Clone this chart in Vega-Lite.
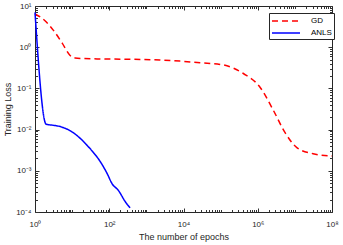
{
  "$schema": "https://vega.github.io/schema/vega-lite/v6.json",
  "autosize": {"type": "none"},
  "padding": {"left": 35, "top": 6, "right": 11, "bottom": 33},
  "width": 297,
  "height": 206,
  "background": "white",
  "config": {
    "view": {"stroke": null},
    "font": "Liberation Sans",
    "axis": {
      "labelFont": "Liberation Sans",
      "titleFont": "Liberation Sans",
      "labelFontSize": 8,
      "titleFontSize": 9,
      "titleFontWeight": "normal",
      "labelColor": "#262626",
      "titleColor": "#262626",
      "domainColor": "#262626",
      "grid": false,
      "labelOverlap": false,
      "labelFlush": false
    }
  },
  "datasets": {
    "gd": [
      {"epoch": 1, "loss": 6.4, "series": "GD"},
      {"epoch": 1.86, "loss": 4.4, "series": "GD"},
      {"epoch": 3.1, "loss": 2.6, "series": "GD"},
      {"epoch": 5.4, "loss": 1.26, "series": "GD"},
      {"epoch": 8.7, "loss": 0.64, "series": "GD"},
      {"epoch": 12, "loss": 0.55, "series": "GD"},
      {"epoch": 20, "loss": 0.53, "series": "GD"},
      {"epoch": 47, "loss": 0.52, "series": "GD"},
      {"epoch": 363, "loss": 0.51, "series": "GD"},
      {"epoch": 2300, "loss": 0.49, "series": "GD"},
      {"epoch": 8000, "loss": 0.46, "series": "GD"},
      {"epoch": 28000, "loss": 0.42, "series": "GD"},
      {"epoch": 120000, "loss": 0.37, "series": "GD"},
      {"epoch": 410000, "loss": 0.23, "series": "GD"},
      {"epoch": 1150000, "loss": 0.107, "series": "GD"},
      {"epoch": 2600000, "loss": 0.03, "series": "GD"},
      {"epoch": 5500000, "loss": 0.0083, "series": "GD"},
      {"epoch": 11500000, "loss": 0.0036, "series": "GD"},
      {"epoch": 31000000, "loss": 0.0026, "series": "GD"},
      {"epoch": 89000000, "loss": 0.0023, "series": "GD"},
      {"epoch": 100000000, "loss": 0.0023, "series": "GD"}
    ],
    "anls": [
      {"epoch": 1, "loss": 7, "series": "ANLS"},
      {"epoch": 2, "loss": 0.0135, "series": "ANLS"},
      {"epoch": 3, "loss": 0.0128, "series": "ANLS"},
      {"epoch": 5, "loss": 0.0117, "series": "ANLS"},
      {"epoch": 9, "loss": 0.0093, "series": "ANLS"},
      {"epoch": 16, "loss": 0.0063, "series": "ANLS"},
      {"epoch": 25, "loss": 0.0042, "series": "ANLS"},
      {"epoch": 36, "loss": 0.0029, "series": "ANLS"},
      {"epoch": 50, "loss": 0.002, "series": "ANLS"},
      {"epoch": 68, "loss": 0.0013, "series": "ANLS"},
      {"epoch": 90, "loss": 0.00082, "series": "ANLS"},
      {"epoch": 117, "loss": 0.0005, "series": "ANLS"},
      {"epoch": 178, "loss": 0.00033, "series": "ANLS"},
      {"epoch": 270, "loss": 0.000178, "series": "ANLS"},
      {"epoch": 363, "loss": 0.000126, "series": "ANLS"}
    ]
  },
  "layer": [
    {
      "data": {"name": "gd"},
      "mark": {"type": "line", "interpolate": "monotone", "strokeWidth": 1.5},
      "encoding": {
        "x": {
          "field": "epoch", "type": "quantitative",
          "scale": {"type": "log", "domain": [1, 100000000], "nice": false},
          "axis": {
            "orient": "bottom",
            "title": "The number of epochs",
            "titlePadding": 4,
            "values": [1, 100, 10000, 1000000, 100000000],
            "ticks": false,
            "tickSize": 0,
            "labelPadding": 8,
            "labelExpr": "'10' + ['⁻⁴','⁻³','⁻²','⁻¹','⁰','¹','²','³','⁴','⁵','⁶','⁷','⁸'][round(log(datum.value)/LN10) + 4]"
          }
        },
        "y": {
          "field": "loss", "type": "quantitative",
          "scale": {"type": "log", "domain": [0.0001, 10], "nice": false},
          "axis": {
            "orient": "left",
            "title": "Training Loss",
            "titlePadding": 3,
            "values": [0.0001, 0.001, 0.01, 0.1, 1, 10],
            "ticks": false,
            "tickSize": 0,
            "labelPadding": 4,
            "labelExpr": "'10' + ['⁻⁴','⁻³','⁻²','⁻¹','⁰','¹','²','³','⁴','⁵','⁶','⁷','⁸'][round(log(datum.value)/LN10) + 4]"
          }
        },
        "color": {
          "field": "series", "type": "nominal",
          "scale": {"domain": ["GD", "ANLS"], "range": ["#ff0000", "#0000ff"]},
          "legend": {
            "title": null,
            "orient": "none",
            "legendX": 234,
            "legendY": 7,
            "strokeColor": "#262626",
            "fillColor": "white",
            "padding": 2,
            "symbolType": "M-2.8,0H2.8",
            "symbolSize": 100,
            "symbolOffset": 9,
            "symbolStrokeWidth": 1.5,
            "labelFontSize": 8,
            "labelFont": "Liberation Sans",
            "labelColor": "#000000",
            "labelOffset": 19,
            "rowPadding": 2
          }
        },
        "strokeDash": {
          "field": "series", "type": "nominal",
          "scale": {"domain": ["GD", "ANLS"], "range": [[6, 4], [1, 0]]}
        }
      }
    },
    {
      "data": {"name": "anls"},
      "mark": {"type": "line", "interpolate": "monotone", "strokeWidth": 1.5},
      "encoding": {
        "x": {
          "field": "epoch", "type": "quantitative",
          "axis": {
            "orient": "top", "offset": -206, "title": null, "labels": false, "domain": false,
            "ticks": true, "tickSize": 4, "tickWidth": 1, "tickColor": "#333333",
            "values": [1, 100, 10000, 1000000, 100000000]
          }
        },
        "y": {
          "field": "loss", "type": "quantitative",
          "axis": {
            "orient": "right", "offset": -297, "title": null, "labels": false, "domain": false,
            "ticks": true, "tickSize": 4, "tickWidth": 1, "tickColor": "#333333",
            "values": [0.0001, 0.001, 0.01, 0.1, 1, 10]
          }
        },
        "color": {"field": "series", "type": "nominal"},
        "strokeDash": {"field": "series", "type": "nominal"}
      }
    },
    {
      "data": {"name": "gd"},
      "mark": {"type": "line", "opacity": 0},
      "encoding": {
        "x": {
          "field": "epoch", "type": "quantitative",
          "axis": {
            "orient": "top", "offset": -206, "title": null, "labels": false, "domain": false,
            "ticks": true, "tickSize": 2.5, "tickWidth": 1, "tickColor": "#333333",
            "values": [2,3,4,5,6,7,8,9,10,20,30,40,50,60,70,80,90,200,300,400,500,600,700,800,900,1000,2000,3000,4000,5000,6000,7000,8000,9000,20000,30000,40000,50000,60000,70000,80000,90000,100000,200000,300000,400000,500000,600000,700000,800000,900000,2000000,3000000,4000000,5000000,6000000,7000000,8000000,9000000,10000000,20000000,30000000,40000000,50000000,60000000,70000000,80000000,90000000]
          }
        },
        "y": {
          "field": "loss", "type": "quantitative",
          "axis": {
            "orient": "right", "offset": -297, "title": null, "labels": false, "domain": false,
            "ticks": true, "tickSize": 2.5, "tickWidth": 1, "tickColor": "#333333",
            "values": [0.0002,0.0003,0.0004,0.0005,0.0006,0.0007,0.0008,0.0009,0.002,0.003,0.004,0.005,0.006,0.007,0.008,0.009,0.02,0.03,0.04,0.05,0.06,0.07,0.08,0.09,0.2,0.3,0.4,0.5,0.6,0.7,0.8,0.9,2,3,4,5,6,7,8,9]
          }
        }
      }
    },
    {
      "data": {"name": "gd"},
      "mark": {"type": "line", "opacity": 0},
      "encoding": {
        "x": {
          "field": "epoch", "type": "quantitative",
          "axis": {
            "orient": "bottom", "offset": -206, "title": null, "labels": false, "domain": true,
            "ticks": true, "tickSize": 4, "tickWidth": 1, "tickColor": "#333333",
            "values": [1, 100, 10000, 1000000, 100000000]
          }
        },
        "y": {
          "field": "loss", "type": "quantitative",
          "axis": {
            "orient": "left", "offset": -297, "title": null, "labels": false, "domain": true,
            "ticks": true, "tickSize": 4, "tickWidth": 1, "tickColor": "#333333",
            "values": [0.0001, 0.001, 0.01, 0.1, 1, 10]
          }
        }
      }
    },
    {
      "data": {"name": "gd"},
      "mark": {"type": "line", "opacity": 0},
      "encoding": {
        "x": {
          "field": "epoch", "type": "quantitative",
          "axis": {
            "orient": "bottom", "offset": -206, "title": null, "labels": false, "domain": false,
            "ticks": true, "tickSize": 2.5, "tickWidth": 1, "tickColor": "#333333",
            "values": [2,3,4,5,6,7,8,9,10,20,30,40,50,60,70,80,90,200,300,400,500,600,700,800,900,1000,2000,3000,4000,5000,6000,7000,8000,9000,20000,30000,40000,50000,60000,70000,80000,90000,100000,200000,300000,400000,500000,600000,700000,800000,900000,2000000,3000000,4000000,5000000,6000000,7000000,8000000,9000000,10000000,20000000,30000000,40000000,50000000,60000000,70000000,80000000,90000000]
          }
        },
        "y": {
          "field": "loss", "type": "quantitative",
          "axis": {
            "orient": "left", "offset": -297, "title": null, "labels": false, "domain": false,
            "ticks": true, "tickSize": 2.5, "tickWidth": 1, "tickColor": "#333333",
            "values": [0.0002,0.0003,0.0004,0.0005,0.0006,0.0007,0.0008,0.0009,0.002,0.003,0.004,0.005,0.006,0.007,0.008,0.009,0.02,0.03,0.04,0.05,0.06,0.07,0.08,0.09,0.2,0.3,0.4,0.5,0.6,0.7,0.8,0.9,2,3,4,5,6,7,8,9]
          }
        }
      }
    }
  ],
  "resolve": {"axis": {"x": "independent", "y": "independent"}}
}
